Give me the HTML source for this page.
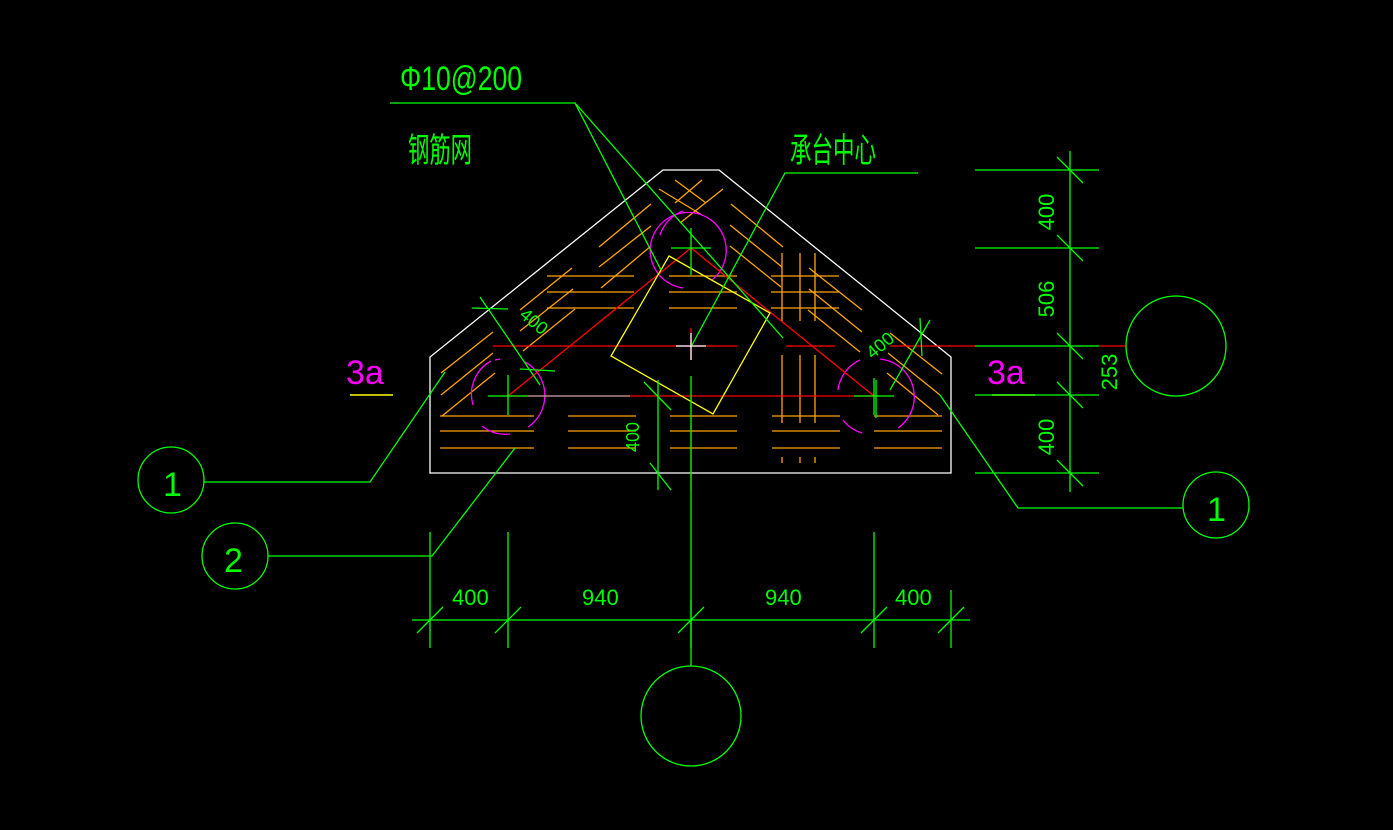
<!DOCTYPE html>
<html><head><meta charset="utf-8"><style>
html,body{margin:0;padding:0;background:#000;width:1393px;height:830px;overflow:hidden}
svg{display:block}
text{font-family:"Liberation Sans Narrow","Liberation Sans","Noto Sans CJK SC",sans-serif;}
</style></head><body>
<svg width="1393" height="830" viewBox="0 0 1393 830" xmlns="http://www.w3.org/2000/svg">
<rect width="1393" height="830" fill="#000"/>
<polygon points="663,170 719,170 951,357 951,473 430,473 430,357" fill="none" stroke="#fff" stroke-width="1.3"/>
<g stroke="#ffa500" stroke-width="1.3" fill="none">
<path d="M440 416H534M440 431H534M440 448H534"/>
<path d="M568 416H636M568 431H636M568 448H636"/>
<path d="M670 416H737M670 431H737M670 448H737"/>
<path d="M772 416H840M772 431H840M772 448H840"/>
<path d="M874 416H942M874 431H942M874 448H942"/>
<path d="M547 276H634M547 292H634M547 308H634"/>
<path d="M669 276H737M669 292H737M669 308H737"/>
<path d="M771 276H839M771 292H839M771 308H839"/>
<path d="M782 253V321M800 253V321M815 253V321"/>
<path d="M782 355V423M800 355V423M815 355V423"/>
<path d="M782 457V463M800 457V463M815 457V463"/>
<path d="M599 247L651 204M599 267L651 226M601 288L651 246M520 310L572 268M520 331L573 289M523 351L575 309"/>
<path d="M441 373L493 332M441 395L493 353M442 416L495 373"/>
<path d="M675 180L706 203M702 180L675 203M659 189L702 215M723 189L680 223"/>
<path d="M731 204L783 247M730 225L782 267M730 246L781 287M809 268L862 310M809 289L862 332M808 310L860 352"/>
<path d="M890 333L942 374M888 353L940 395M887 373L938 415"/>
</g>
<g stroke="#ff00ff" stroke-width="1.3" fill="none">
<path d="M683 288A38 38 0 1 1 712 280"/>
<path d="M660 235A38 38 0 0 1 683 211"/>
<path d="M491 361A38 38 0 0 0 473 405M482 426A38 38 0 0 0 510 434M525 362A38 38 0 0 1 528 427M495 360L500 359"/>
<path d="M838 390A38 38 0 0 1 860 360M862 433A38 38 0 0 1 843 420M880 359A38 38 0 0 1 898 428"/>
</g>
<g stroke="#ff0000" stroke-width="1.3" fill="none">
<path d="M493 346H737M786 346H835M890 346H975M1099 346H1126"/>
<path d="M508 396H874"/>
<path d="M508 396L691 248L874 396"/>
<path d="M691 328V360M691 423V490"/>
</g>
<polygon points="669,256 770,313 713,414 611,356" fill="none" stroke="#ffff00" stroke-width="1.3"/>
<path d="M350 395H393M992 395H1035" stroke="#ffff00" stroke-width="1.5"/>
<path d="M676 346H706M691 333V360" stroke="#fff" stroke-width="1.3"/>
<path d="M508 396H630" stroke="#ccc" stroke-width="1"/>
<g stroke="#00ff00" stroke-width="1.3" fill="none">
<path d="M671 248H711M691 228V275"/>
<path d="M488 396H528M508 375V415"/>
<path d="M854 396H894M874 378V415M876 380V418"/>
<path d="M691 376V666"/>
<path d="M1070 151V492M975 170H1099M975 248H1099M975 346H1099M975 395H1099M975 473H1099"/>
<path d="M1057 157L1083 183M1057 235L1083 261M1057 333L1083 359M1057 382L1083 408M1057 460L1083 486"/>
<circle cx="1176" cy="346" r="50"/>
<path d="M412 620H970M430 532V648M508 532V648M691 600V648M874 532V648M951 590V648"/>
<path d="M417 633L443 607M495 633L521 607M678 633L704 607M861 633L887 607M938 633L964 607"/>
<circle cx="691" cy="716" r="50"/>
<circle cx="171" cy="480" r="33"/><path d="M204 482H370L445 372"/>
<circle cx="235" cy="556" r="33"/><path d="M268 556H432L515 448"/>
<circle cx="1216" cy="505" r="33"/><path d="M1183 508H1018L940 395"/>
<path d="M390 103H575L661 270M575 103L783 338"/>
<path d="M918 173H785L692 345"/>
<path d="M480 297L540 385M472 308L508 309M520 369L555 371"/>
<path d="M930 320L890 390M920 318L922 356"/>
<path d="M644 382L671 410M650 463L671 490M658 380V490"/>
</g>
<g fill="#00ff00" font-size="22">
<text x="400" y="90" font-size="34" textLength="122" lengthAdjust="spacingAndGlyphs">Φ10@200</text>
<text x="408" y="162" font-size="34" font-family="Noto Sans CJK SC" textLength="64" lengthAdjust="spacingAndGlyphs">钢筋网</text>
<text x="790" y="162" font-size="34" font-family="Noto Sans CJK SC" textLength="86" lengthAdjust="spacingAndGlyphs">承台中心</text>
<text x="452" y="605">400</text><text x="582" y="605">940</text><text x="765" y="605">940</text><text x="895" y="605">400</text>
<text transform="translate(1054,212) rotate(-90)" text-anchor="middle">400</text>
<text transform="translate(1054,299) rotate(-90)" text-anchor="middle">506</text>
<text transform="translate(1117,372) rotate(-90)" text-anchor="middle">253</text>
<text transform="translate(1054,437) rotate(-90)" text-anchor="middle">400</text>
<text transform="translate(639,437) rotate(-90)" text-anchor="middle" font-size="18">400</text>
<text transform="translate(530,326) rotate(40)" text-anchor="middle" font-size="18">400</text>
<text transform="translate(884,350) rotate(-40)" text-anchor="middle" font-size="18">400</text>
<text x="163" y="496" font-size="34">1</text>
<text x="224" y="572" font-size="34">2</text>
<text x="1207" y="521" font-size="34">1</text>
</g>
<g fill="#ff00ff" font-size="34">
<text x="346" y="384">3a</text>
<text x="987" y="384">3a</text>
</g>
</svg>
</body></html>
